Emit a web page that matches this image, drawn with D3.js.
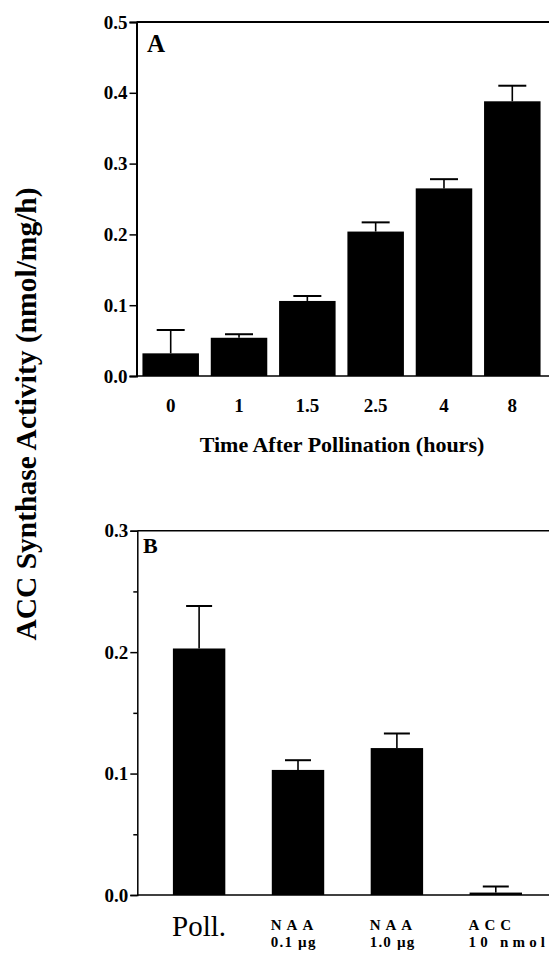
<!DOCTYPE html>
<html>
<head>
<meta charset="utf-8">
<script src="https://cdnjs.cloudflare.com/ajax/libs/d3/7.8.5/d3.min.js"></script>
<style>
  body { margin: 0; background: #fff; }
  svg text { font-family: "Liberation Serif", "Times New Roman", serif; fill: #000; }
</style>
</head>
<body>
<svg id="chart" width="549" height="954"></svg>
<script>
// panel A - time course
const timeLabels = ["0", "1", "1.5", "2.5", "4", "8"];
const timeValues = [0.032, 0.054, 0.106, 0.204, 0.265, 0.388];
const timeErrors = [0.033, 0.005, 0.007, 0.013, 0.013, 0.022];
const timeTicks = [0.0, 0.1, 0.2, 0.3, 0.4, 0.5];

// panel B - treatments
const treatLine1 = ["Poll.", "NAA", "NAA", "ACC"];
const treatLine2 = ["", "0.1 \u00b5g", "1.0 \u00b5g", "10 nmol"];
const treatValues = [0.203, 0.103, 0.121, 0.002];
const treatErrors = [0.035, 0.008, 0.012, 0.005];
const treatTicks = [0.0, 0.1, 0.2, 0.3];
const treatMinorTicks = [0.05, 0.15, 0.25];

const svg = d3.select("#chart");
const serif = "Liberation Serif";

// ---------- panel A ----------
let xA = d3.scaleBand()
  .domain(timeLabels)
  .range([136.5, 546.5])
  .paddingInner(0.173)
  .paddingOuter(0.087);
let yA = d3.scaleLinear().domain([0, 0.5]).range([376, 22]);

let gA = svg.append("g");

gA.selectAll("rect.bar")
  .data(timeValues)
  .enter().append("rect")
  .attr("class", "bar")
  .attr("x", (d, i) => xA(timeLabels[i]))
  .attr("y", d => yA(d))
  .attr("width", xA.bandwidth())
  .attr("height", d => yA(0) - yA(d))
  .attr("fill", "#000");

// error bars (upper half only)
timeValues.forEach(function(v, i) {
  let cx = xA(timeLabels[i]) + xA.bandwidth() / 2;
  gA.append("line")
    .attr("x1", cx).attr("x2", cx)
    .attr("y1", yA(v)).attr("y2", yA(v + timeErrors[i]))
    .attr("stroke", "#000").attr("stroke-width", 1.6);
  gA.append("line")
    .attr("x1", cx - 14).attr("x2", cx + 14)
    .attr("y1", yA(v + timeErrors[i])).attr("y2", yA(v + timeErrors[i]))
    .attr("stroke", "#000").attr("stroke-width", 2);
});

let axisA = gA.append("g")
  .attr("transform", "translate(136.5,0)")
  .call(d3.axisLeft(yA).tickValues(timeTicks).tickFormat(d3.format(".1f")).tickSize(7).tickPadding(2));
axisA.attr("font-family", serif);
axisA.select(".domain").attr("stroke-width", 2);
axisA.selectAll(".tick line").attr("stroke-width", 1.5);
axisA.selectAll("text").attr("font-size", 19).attr("font-weight", "bold");

// top frame and baseline
gA.append("line").attr("x1", 136.5).attr("x2", 549).attr("y1", yA(0.5)).attr("y2", yA(0.5))
  .attr("stroke", "#000").attr("stroke-width", 2);
gA.append("line").attr("x1", 136.5).attr("x2", 549).attr("y1", yA(0)).attr("y2", yA(0))
  .attr("stroke", "#000").attr("stroke-width", 1.5);

gA.selectAll("text.xlab")
  .data(timeLabels)
  .enter().append("text")
  .attr("class", "xlab")
  .attr("x", d => xA(d) + xA.bandwidth() / 2)
  .attr("y", 412)
  .attr("text-anchor", "middle")
  .attr("font-size", 19)
  .attr("font-weight", "bold")
  .text(d => d);

gA.append("text")
  .attr("x", 342)
  .attr("y", 452)
  .attr("text-anchor", "middle")
  .attr("font-size", 22)
  .attr("font-weight", "bold")
  .text("Time After Pollination (hours)");

gA.append("text")
  .attr("x", 147)
  .attr("y", 52)
  .attr("font-size", 25)
  .attr("font-weight", "bold")
  .text("A");

// ---------- panel B ----------
let xB = d3.scaleBand()
  .domain(treatLine1.map((d, i) => i))
  .range([137.3, 557.6])
  .paddingInner(0.47)
  .paddingOuter(0.36);
let yB = d3.scaleLinear().domain([0, 0.3]).range([895, 530.7]);

let gB = svg.append("g");

gB.selectAll("rect.bar")
  .data(treatValues)
  .enter().append("rect")
  .attr("class", "bar")
  .attr("x", (d, i) => xB(i))
  .attr("y", d => yB(d))
  .attr("width", xB.bandwidth())
  .attr("height", d => yB(0) - yB(d))
  .attr("fill", "#000");

treatValues.forEach(function(v, i) {
  let cx = xB(i) + xB.bandwidth() / 2;
  gB.append("line")
    .attr("x1", cx).attr("x2", cx)
    .attr("y1", yB(v)).attr("y2", yB(v + treatErrors[i]))
    .attr("stroke", "#000").attr("stroke-width", 1.6);
  gB.append("line")
    .attr("x1", cx - 13).attr("x2", cx + 13)
    .attr("y1", yB(v + treatErrors[i])).attr("y2", yB(v + treatErrors[i]))
    .attr("stroke", "#000").attr("stroke-width", 2);
});

let axisB = gB.append("g")
  .attr("transform", "translate(137.3,0)")
  .call(d3.axisLeft(yB).tickValues(treatTicks).tickFormat(d3.format(".1f")).tickSize(7).tickPadding(2));
axisB.attr("font-family", serif);
axisB.select(".domain").attr("stroke-width", 1.5);
axisB.selectAll(".tick line").attr("stroke-width", 1.5);
axisB.selectAll("text").attr("font-size", 19).attr("font-weight", "bold");

let minorB = gB.append("g")
  .attr("transform", "translate(137.3,0)")
  .call(d3.axisLeft(yB).tickValues(treatMinorTicks).tickFormat("").tickSize(4));
minorB.select(".domain").remove();
minorB.selectAll(".tick line").attr("stroke-width", 1.5);

gB.append("line").attr("x1", 137.3).attr("x2", 549).attr("y1", yB(0.3)).attr("y2", yB(0.3))
  .attr("stroke", "#000").attr("stroke-width", 1.5);
gB.append("line").attr("x1", 137.3).attr("x2", 549).attr("y1", yB(0)).attr("y2", yB(0))
  .attr("stroke", "#000").attr("stroke-width", 1.5);

// category labels
treatLine1.forEach(function(d, i) {
  if (i == 0) {
    gB.append("text")
      .attr("x", xB(i) + xB.bandwidth() / 2)
      .attr("y", 936)
      .attr("text-anchor", "middle")
      .attr("font-size", 29)
      .text(d);
  } else {
    gB.append("text")
      .attr("x", xB(i) - 1)
      .attr("y", 930)
      .attr("font-size", 15)
      .attr("font-weight", "bold")
      .attr("letter-spacing", 5)
      .text(d);
    // the micro sign in the original is narrow, so the µg lines get less spacing
    gB.append("text")
      .attr("x", xB(i) - 1)
      .attr("y", 947)
      .attr("font-size", 15)
      .attr("font-weight", "bold")
      .attr("letter-spacing", treatLine2[i].indexOf("\u00b5") >= 0 ? 1.2 : 4.2)
      .text(treatLine2[i]);
  }
});

gB.append("text")
  .attr("x", 143)
  .attr("y", 553)
  .attr("font-size", 22)
  .attr("font-weight", "bold")
  .text("B");

// shared y title
svg.append("text")
  .attr("transform", "translate(36,414) rotate(-90)")
  .attr("text-anchor", "middle")
  .attr("font-size", 29.5)
  .attr("font-weight", "bold")
  .text("ACC Synthase Activity (nmol/mg/h)");
</script>
</body>
</html>
